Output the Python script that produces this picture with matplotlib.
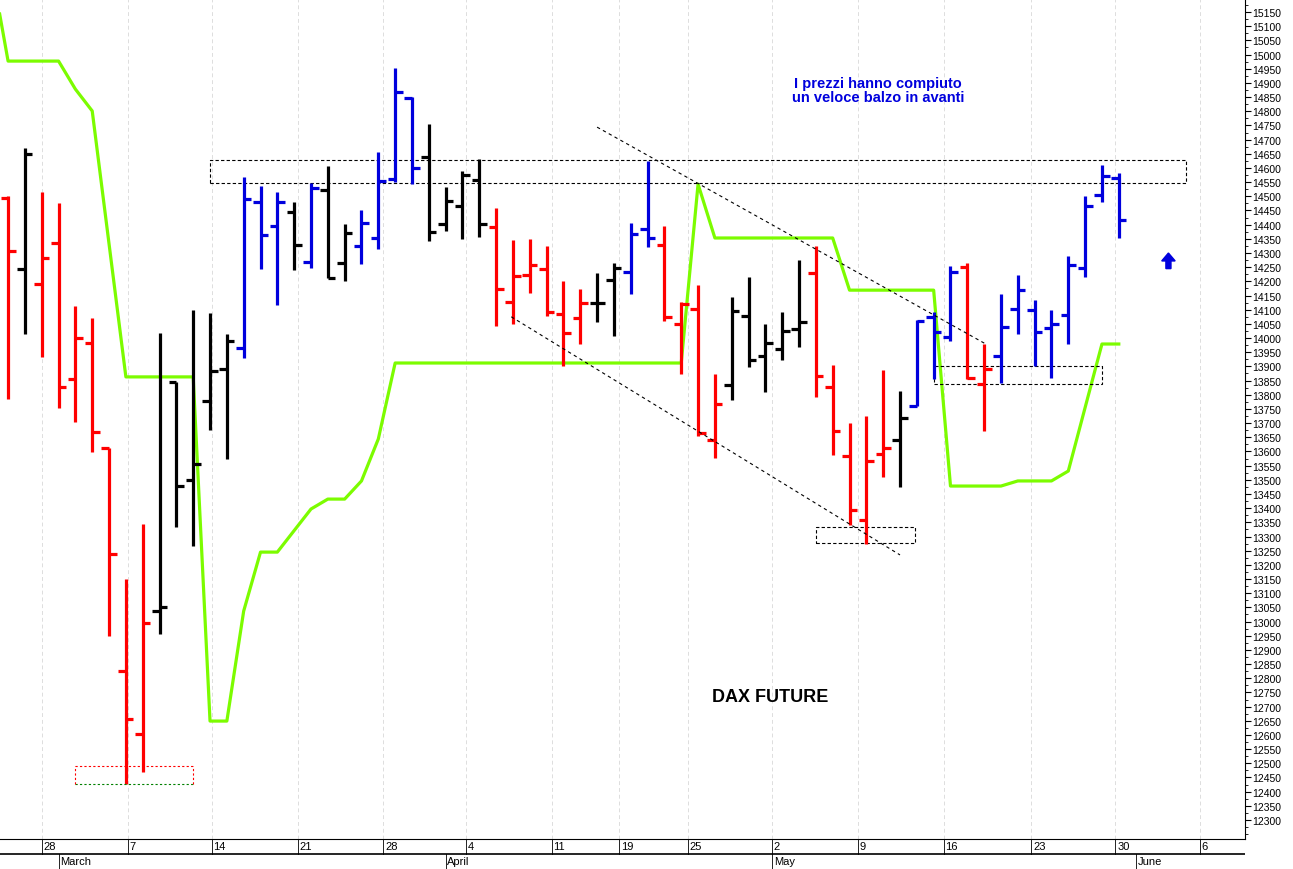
import matplotlib
matplotlib.use('Agg')
import matplotlib.pyplot as plt
from matplotlib.patches import Rectangle, FancyArrow
import numpy as np

plt.rcParams['font.family'] = ['Liberation Sans', 'DejaVu Sans']

# daily OHLC bars, DAX future Feb 24 - May 31 (trading-day index)
opens = [14495, 14244, 14191, 14335, 13856, 13983, 13612, 12826, 12603, 13037,
         13845, 13499, 13778, 13891, 13965, 14480, 14395, 14445, 14268, 14522,
         14265, 14325, 14353, 14561, 14847, 14639, 14402, 14466, 14557, 14392,
         14127, 14222, 14244, 14085, 14071, 14124, 14205, 14233, 14385, 14328,
         14050, 14102, 13640, 13834, 14078, 13937, 13961, 14032, 14229, 13827,
         13584, 13358, 13591, 13640, 13760, 14074, 14004, 14251, 13838, 13937,
         14102, 14099, 14036, 14081, 14247, 14505, 14564]
highs = [14501, 14670, 14515, 14476, 14113, 14071, 13612, 13150, 13344, 14017,
         13845, 14099, 14088, 14014, 14568, 14536, 14515, 14480, 14547, 14607,
         14402, 14452, 14656, 14953, 14850, 14755, 14533, 14589, 14632, 14459,
         14346, 14349, 14325, 14201, 14173, 14229, 14265, 14406, 14625, 14395,
         14127, 14187, 13873, 14145, 14215, 14050, 14092, 14275, 14325, 13905,
         13700, 13725, 13887, 13813, 14064, 14092, 14254, 14265, 13979, 14155,
         14222, 14134, 14099, 14289, 14501, 14610, 14582]
lows = [13785, 14014, 13933, 13753, 13704, 13598, 12949, 12427, 12469, 12956,
        13334, 13267, 13676, 13573, 13930, 14244, 14117, 14240, 14247, 14212,
        14201, 14261, 14314, 14550, 14543, 14342, 14378, 14349, 14356, 14043,
        14050, 14159, 14078, 13901, 13979, 14057, 14007, 14155, 14321, 14060,
        13873, 13655, 13577, 13782, 13898, 13810, 13923, 13968, 13792, 13587,
        13341, 13274, 13510, 13475, 13760, 13856, 13990, 13856, 13672, 13842,
        14014, 13901, 13859, 13979, 14215, 14480, 14353]
closes = [14307, 14650, 14282, 13827, 14000, 13669, 13239, 12656, 12995, 13050,
          13478, 13556, 13884, 13990, 14490, 14363, 14480, 14328, 14529, 14212,
          14370, 14406, 14554, 14868, 14600, 14374, 14483, 14575, 14402, 14173,
          14219, 14258, 14092, 14018, 14124, 14124, 14247, 14367, 14353, 14074,
          14120, 13665, 13767, 14095, 13923, 13983, 14025, 14057, 13866, 13672,
          13394, 13566, 13612, 13718, 14060, 14021, 14233, 13859, 13891, 14039,
          14169, 14021, 14050, 14258, 14466, 14572, 14416]
bar_colors = ("rkrrrrrrr" "kkkkk" "bbb" "k" "b" "kk" "bbbb" "kkkk" "rrrrrr"
              "kk" "bb" "rrrr" "kkkkk" "rrrrr" "k" "bbb" "rr" "bbbbbbbb")

# trailing stop line
green_idx = [-0.5, 0, 3, 4, 5, 7, 11, 12, 13, 14, 15, 16, 18, 19, 20, 21, 22, 23,
             40, 41, 42, 49, 50, 55, 56, 59, 60, 62, 63, 65, 66]
green_val = [15143, 14977, 14977, 14878, 14801, 13863, 13863, 12649, 12649, 13037,
             13245, 13245, 13397, 13432, 13432, 13496, 13644, 13912,
             13912, 14543, 14353, 14353, 14169, 14169, 13478, 13478, 13496, 13496,
             13531, 13979, 13979]

tick_pos = [2.0, 7.1, 12.1, 17.2, 22.3, 27.2, 32.3, 36.3, 40.4, 45.4, 50.5, 55.6, 60.8, 65.8, 70.8]
tick_lab = ['28', '7', '14', '21', '28', '4', '11', '19', '25', '2', '9', '16', '23', '30', '6']
month_pos = [3.0, 26.0, 45.4, 67.0]
month_lab = ['March', 'April', 'May', 'June']

cmap = {'r': '#ff0000', 'k': '#000000', 'b': '#0000dd'}

fig = plt.figure(figsize=(12.93, 8.70), dpi=100)
ax = fig.add_axes([0, 30 / 870, 1245 / 1293, 840 / 870])

for i in range(len(opens)):
    c = cmap[bar_colors[i]]
    ax.plot([i, i], [lows[i], highs[i]], color=c, lw=2.3, solid_capstyle='butt')
    ax.plot([i - 0.45, i], [opens[i], opens[i]], color=c, lw=2.3, solid_capstyle='butt')
    ax.plot([i, i + 0.45], [closes[i], closes[i]], color=c, lw=2.3, solid_capstyle='butt')

ax.plot(green_idx, green_val, color='#7cfc00', lw=2.3, zorder=1)

# dashed annotation boxes and trend lines
box_kw = dict(fill=False, ls=(0, (3, 2)), lw=0.8)
ax.add_patch(Rectangle((12.0, 14547), 58.0, 81, ec='black', **box_kw))
ax.add_patch(Rectangle((48.0, 13277), 5.9, 57, ec='black', **box_kw))
ax.add_patch(Rectangle((55.0, 13838), 10.0, 63, ec='black', **box_kw))
ax.plot([4.0, 11.0], [12491, 12491], color='red', ls=(0, (2, 2)), lw=0.8)
ax.plot([4.0, 11.0], [12427, 12427], color='green', ls=(0, (2, 2)), lw=0.8)
ax.plot([4.0, 4.0], [12427, 12491], color='red', ls=(0, (2, 2)), lw=0.8)
ax.plot([11.0, 11.0], [12427, 12491], color='red', ls=(0, (2, 2)), lw=0.8)
ax.plot([35.0, 58.1], [14744, 13979], color='black', ls=(0, (3, 3)), lw=0.8)
ax.plot([29.9, 53.0], [14075, 13235], color='black', ls=(0, (3, 3)), lw=0.8)

ax.text(51.7, 14875, 'I prezzi hanno compiuto\nun veloce balzo in avanti', color='#0000dd',
        fontsize=10.5, fontweight='bold', ha='center', va='center', linespacing=1.0)
ax.text(45.3, 12734, 'DAX FUTURE', fontsize=13, fontweight='bold', ha='center', va='center')
ax.add_patch(FancyArrow(68.95, 14245, 0, 55, width=0.3, head_width=0.8, head_length=28,
                        length_includes_head=True, color='#0000dd'))

ax.set_xlim(-0.48, 73.5)
ax.set_ylim(12233, 15196)
ax.yaxis.tick_right()
ax.set_yticks(np.arange(12300, 15151, 50))
ax.set_yticks(np.arange(12250, 15200, 25), minor=True)
ax.tick_params(axis='y', labelsize=7.5, length=4, direction='out', pad=1)
ax.tick_params(axis='y', which='minor', length=2)
ax.set_xticks(tick_pos)
ax.set_xticklabels([])
ax.tick_params(axis='x', length=0)
for p in tick_pos:
    ax.axvline(p, color='#dddddd', ls=(0, (4, 3)), lw=0.7, zorder=0)
ax.spines['top'].set_visible(False)
ax.spines['left'].set_visible(False)

# bottom date band
band = fig.add_axes([0, 0, 1245 / 1293, 30 / 870])
band.set_xlim(ax.get_xlim())
band.set_ylim(0, 2)
band.axis('off')
band.axhline(1.0, color='black', lw=1.2)
for p, t in zip(tick_pos, tick_lab):
    band.plot([p, p], [1.0, 2.0], color='black', lw=0.6)
    band.text(p + 0.1, 1.5, t, fontsize=8, ha='left', va='center')
for p, t in zip(month_pos, month_lab):
    band.plot([p, p], [0, 1.0], color='black', lw=0.6)
    band.text(p + 0.1, 0.5, t, fontsize=8, ha='left', va='center')

fig.savefig('out.png', dpi=100)
